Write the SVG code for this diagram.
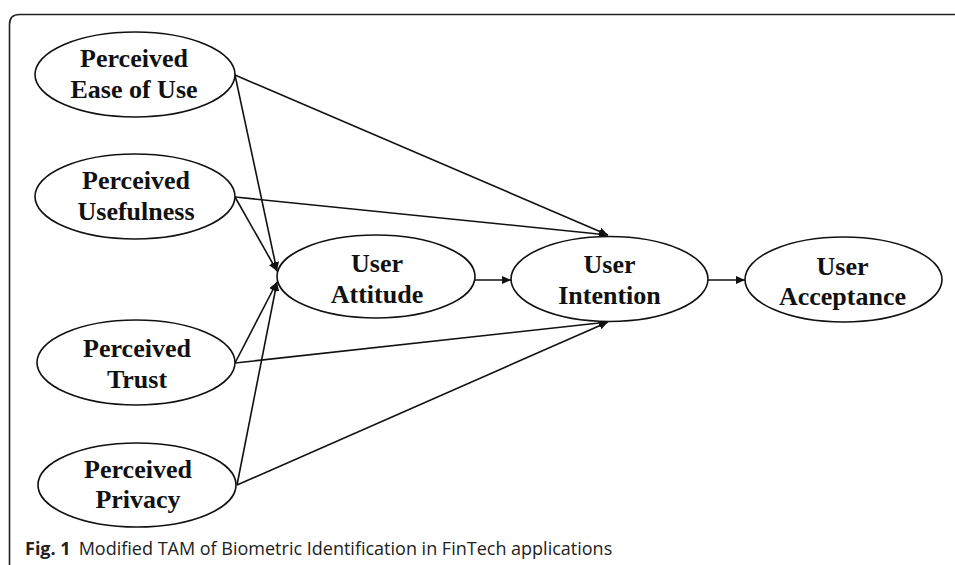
<svg xmlns="http://www.w3.org/2000/svg" width="955" height="565" viewBox="0 0 955 565">
<style>
.node ellipse{fill:#fff;stroke:#111;stroke-width:1.6}
.node text{font-family:"Liberation Serif","Times New Roman",serif;font-weight:bold;font-size:26px;fill:#111;text-anchor:middle}
.edges line{stroke:#111;stroke-width:1.6;marker-end:url(#ah)}
.cap{font-family:"Open Sans","Liberation Sans",sans-serif;font-size:18px;fill:#222}
</style>
<defs>
<marker id="ah" markerUnits="userSpaceOnUse" markerWidth="10" markerHeight="8" refX="9" refY="4" orient="auto">
<path d="M0,0 L9,4 L0,8 Z" fill="#111"/>
</marker>
</defs>
<rect width="955" height="565" fill="#fff"/>
<path d="M9.5,565 L9.5,24.5 Q9.5,14.5 19.5,14.5 L955,14.5" fill="none" stroke="#222" stroke-width="1.6"/>
<g class="edges">
<line x1="235" y1="75" x2="608" y2="235"/>
<line x1="235" y1="75" x2="277" y2="271"/>
<line x1="235" y1="197" x2="608" y2="235"/>
<line x1="235" y1="197" x2="277" y2="271"/>
<line x1="235" y1="363" x2="277" y2="282"/>
<line x1="235" y1="363" x2="608" y2="322"/>
<line x1="237" y1="485" x2="277" y2="282"/>
<line x1="237" y1="485" x2="608" y2="322"/>
<line x1="475" y1="280" x2="511" y2="280"/>
<line x1="708" y1="280" x2="745" y2="280"/>
</g>
<g id="n-ease" class="node">
<ellipse cx="135" cy="74.5" rx="100" ry="42.5"/>
<text x="134" y="66.5">Perceived</text>
<text x="134" y="98">Ease of Use</text>
</g>
<g id="n-usefulness" class="node">
<ellipse cx="135" cy="196.5" rx="100" ry="42.5"/>
<text x="136" y="188.5">Perceived</text>
<text x="136" y="220">Usefulness</text>
</g>
<g id="n-trust" class="node">
<ellipse cx="136" cy="362.5" rx="99" ry="42.5"/>
<text x="137" y="357">Perceived</text>
<text x="137" y="388">Trust</text>
</g>
<g id="n-privacy" class="node">
<ellipse cx="137" cy="485" rx="99" ry="42"/>
<text x="138" y="478">Perceived</text>
<text x="138" y="508">Privacy</text>
</g>
<g id="n-attitude" class="node">
<ellipse cx="376" cy="276.5" rx="99" ry="41.5"/>
<text x="377" y="272">User</text>
<text x="377" y="303">Attitude</text>
</g>
<g id="n-intention" class="node">
<ellipse cx="609.5" cy="279" rx="98.5" ry="42.5"/>
<text x="609.5" y="272.5">User</text>
<text x="609.5" y="303.5">Intention</text>
</g>
<g id="n-acceptance" class="node">
<ellipse cx="843.5" cy="279.5" rx="98.5" ry="42.5"/>
<text x="842.5" y="275">User</text>
<text x="842.5" y="305">Acceptance</text>
</g>
<text class="cap" x="25" y="555"><tspan font-weight="bold">Fig. 1</tspan><tspan dx="8">Modified TAM of Biometric Identification in FinTech applications</tspan></text>
</svg>
